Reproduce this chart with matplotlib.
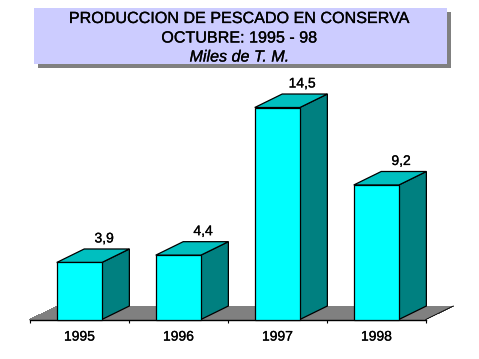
import matplotlib
matplotlib.use("Agg")
import matplotlib.pyplot as plt
import matplotlib.patheffects as pe
from matplotlib.patches import Polygon, Rectangle

years = ["1995", "1996", "1997", "1998"]
values = [3.9, 4.4, 14.5, 9.2]
value_labels = ["3,9", "4,4", "14,5", "9,2"]
title_lines = ["PRODUCCION DE PESCADO EN CONSERVA", "OCTUBRE: 1995 - 98"]
subtitle = "Miles de T. M."

W, H = 479, 359
plt.rcParams['font.family'] = ['Liberation Sans', 'DejaVu Sans']

fig = plt.figure(figsize=(W / 100, H / 100), dpi=100, facecolor='white')
heavy = [pe.withStroke(linewidth=0.2, foreground='black')]

# ejes: x de 30 a 426 px, base en y=319 px
ax = fig.add_axes([29.8 / W, (H - 319.5) / H, 396 / W, 219.3 / H])
ax.set_xlim(-0.5, 3.5)
ax.set_ylim(0, 15)
ax.patch.set_visible(False)
for s in ['top', 'right', 'left']:
    ax.spines[s].set_visible(False)
ax.spines['bottom'].set_linewidth(1)
ax.set_yticks([])
ax.set_xticks([-0.5, 0.5, 1.5, 2.5, 3.5])
ax.set_xticklabels([])
ax.tick_params(axis='x', length=2.5, width=0.8, direction='out')

dx = 27.5 / 99.0   # profundidad en unidades de datos
dy = 13.5 / 14.62
half = 0.228

# piso gris
ax.add_patch(Polygon([(-0.5, 0), (-0.5 + dx, dy), (3.5 + dx, dy), (3.5, 0)],
                     closed=True, fc='#808080', ec='none', clip_on=False, zorder=1, antialiased=False))
ax.plot([3.5, 3.5 + dx], [0, dy], color='black', lw=0.6, clip_on=False, zorder=1.5)

for i, v in enumerate(values):
    l, r = i - half, i + half
    ax.add_patch(Polygon([(r, 0), (r + dx, dy), (r + dx, v + dy), (r, v)], closed=True,
                         fc='#008080', ec='black', lw=0.9, zorder=2, clip_on=False))
    ax.add_patch(Polygon([(l, v), (l + dx, v + dy), (r + dx, v + dy), (r, v)], closed=True,
                         fc='#00BFBF', ec='black', lw=0.9, zorder=2, clip_on=False))
    ax.add_patch(Rectangle((l, 0), 2 * half, v, fc='#00FFFF', ec='black', lw=0.9, zorder=3, clip_on=False))
    ax.text(i + 0.25, v + dy + 0.72, value_labels[i], ha='center', va='center',
            fontsize=10, color='black', zorder=4, path_effects=heavy)
    ax.text(i, -1.17, years[i], ha='center', va='center', fontsize=10, color='black', path_effects=heavy)

# recuadro del titulo
fig.add_artist(Rectangle((38 / W, (H - 68) / H), 413 / W, 56 / H, transform=fig.transFigure,
                         fc='#808080', ec='none', antialiased=False))
fig.add_artist(Rectangle((34 / W, (H - 64) / H), 413 / W, 56 / H, transform=fig.transFigure,
                         fc='#CCCCFF', ec='none', antialiased=False))
fig.text(239.5 / W, (H - 18.5) / H, title_lines[0], ha='center', va='center', fontsize=11.6, color='black', path_effects=heavy)
fig.text(239.5 / W, (H - 38) / H, title_lines[1], ha='center', va='center', fontsize=11.6, color='black', path_effects=heavy)
fig.text(239.5 / W, (H - 57) / H, subtitle, ha='center', va='center', fontsize=11.6, style='italic', color='black', path_effects=heavy)

fig.savefig("out.png", dpi=100)
